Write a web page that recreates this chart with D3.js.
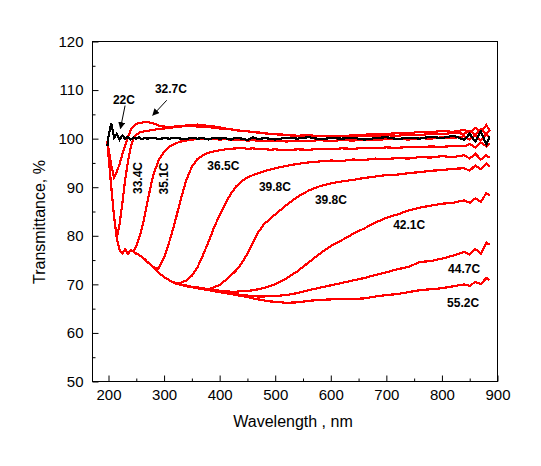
<!DOCTYPE html>
<html>
<head>
<meta charset="utf-8">
<script src="https://cdn.jsdelivr.net/npm/d3@7"></script>
<style>
  body { margin: 0; background: #fff; }
  svg { display: block; }
  .tick text { font-family: "Liberation Sans", Arial, sans-serif; font-size: 15px; fill: #000; }
  .axis-title { font-family: "Liberation Sans", Arial, sans-serif; font-size: 16px; fill: #000; }
  .curve-label { font-family: "Liberation Sans", Arial, sans-serif; font-size: 12px; font-weight: bold; fill: #000; }
</style>
</head>
<body>
<svg id="chart" width="541" height="466"></svg>
<script>
// wavelength grid (nm), shared by all spectra
const wavelength = [
  198, 200, 205, 210, 215, 220, 225, 230, 235, 240,
  245, 250, 255, 260, 265, 270, 280, 290, 300, 310,
  320, 330, 340, 350, 360, 370, 380, 390, 400, 410,
  420, 430, 440, 450, 460, 470, 480, 490, 500, 520,
  540, 560, 580, 600, 620, 640, 660, 680, 700, 720,
  740, 760, 780, 800, 820, 840, 850, 860, 870, 880,
  886
];

// transmittance, %
const t22 = [
  98.5, 100.5, 103.2, 100.2, 101, 99.8, 100.7, 99.9, 100.4, 99.8,
  100.2, 100, 100.3, 99.9, 100.1, 100, 100.2, 99.9, 100.1, 100,
  100.2, 100, 99.9, 100.2, 100, 100.1, 99.8, 100.2, 100, 100.1,
  99.8, 100.2, 100, 99.7, 100.3, 99.9, 100.1, 100, 99.8, 100.2,
  100, 100.3, 99.9, 100.1, 100, 100.2, 99.8, 100.1, 100.3, 99.9,
  100.2, 100, 100.4, 100.1, 100.6, 99.8, 101, 99.4, 101.5, 98.8,
  100.5
];
const t327 = [
  99.5, 98, 94.5, 92, 93.2, 94.8, 96.8, 98.6, 100.3, 101.8,
  102.6, 103, 103.2, 103.3, 103.4, 103.4, 103.2, 102.7, 102.5, 102.4,
  102.5, 102.6, 102.7, 102.8, 102.9, 102.8, 102.6, 102.5, 102.3, 102.1,
  101.9, 101.8, 101.6, 101.5, 101.4, 101.2, 101.1, 101, 100.9, 100.8,
  100.6, 100.7, 100.5, 100.6, 100.5, 100.7, 100.8, 101, 100.9, 101.2,
  101.1, 101.4, 101.3, 101.6, 101.4, 101.8, 101.2, 102.2, 101.4, 102.8,
  101.6
];
const t334 = [
  99.5, 96.5, 90, 84, 79.5, 82.5, 86.8, 91.5, 95.3, 98.2,
  100, 100.8, 101.2, 101.4, 101.5, 101.6, 101.8, 102, 102.1, 102.2,
  102.4, 102.5, 102.6, 102.6, 102.5, 102.5, 102.4, 102.2, 102.1, 102,
  101.9, 101.7, 101.6, 101.5, 101.3, 101.3, 101.1, 101, 100.9, 100.7,
  100.6, 100.5, 100.6, 100.4, 100.5, 100.4, 100.6, 100.5, 100.7, 100.6,
  100.8, 100.7, 101, 100.9, 101.2, 101, 101.6, 100.8, 102, 100.9,
  101.8
];
const t351 = [
  99.5, 96.5, 90, 84, 79.5, 77, 76.4, 77.2, 76.3, 77,
  76.8, 77.8, 79.5, 81.5, 84, 87, 92.3, 95.5, 97.3, 98.4,
  99, 99.4, 99.6, 99.8, 99.9, 100, 99.9, 100, 99.8, 99.9,
  99.8, 99.7, 99.8, 99.6, 99.7, 99.5, 99.6, 99.5, 99.6, 99.4,
  99.6, 99.5, 99.7, 99.5, 99.7, 99.6, 99.8, 99.7, 99.9, 100,
  99.8, 100.1, 100, 100.3, 100.1, 100.5, 99.8, 100.8, 99.6, 101,
  100.2
];
const t365 = [
  99.5, 96.5, 90, 84, 79.5, 77, 76.4, 77.2, 76.3, 77,
  76.8, 76.3, 76.1, 75.6, 75.2, 74.6, 73.6, 73.2, 75.5, 79,
  83, 87.5, 91.5, 94.2, 95.8, 96.6, 97.1, 97.4, 97.6, 97.8,
  97.9, 98, 98.1, 97.9, 98, 97.8, 97.9, 97.7, 97.8, 97.6,
  97.8, 97.7, 97.9, 97.8, 98, 97.9, 98.1, 98, 98.2, 98.1,
  98.3, 98.2, 98.4, 98.3, 98.5, 98.4, 98.9, 98.2, 99.2, 98.4,
  99
];
const t398a = [
  99.5, 96.5, 90, 84, 79.5, 77, 76.4, 77.2, 76.3, 77,
  76.8, 76.3, 76.1, 75.6, 75.2, 74.6, 73.6, 72.4, 71.5, 70.8,
  70.3, 70.3, 70.8, 71.8, 73.5, 76, 78.8, 81.7, 84.3, 86.6,
  88.6, 90.2, 91.3, 92, 92.5, 92.9, 93.3, 93.6, 93.9, 94.4,
  94.8, 95.1, 95.3, 95.5, 95.4, 95.7, 95.6, 95.9, 95.8, 96,
  95.9, 96.2, 96.1, 96.4, 96.2, 96.6, 95.9, 96.9, 95.7, 96.6,
  96
];
const t398b = [
  99.5, 96.5, 90, 84, 79.5, 77, 76.4, 77.2, 76.3, 77,
  76.8, 76.3, 76.1, 75.6, 75.2, 74.6, 73.6, 72.4, 71.5, 70.8,
  70.3, 70, 69.8, 69.5, 69.4, 69.2, 69, 69.4, 69.9, 70.8,
  71.8, 72.9, 74.4, 76.3, 78.6, 80.8, 82.4, 83.4, 84.4, 86.3,
  88, 89.3, 90.2, 90.8, 91.2, 91.5, 91.9, 92.2, 92.5, 92.6,
  92.9, 93.1, 93.4, 93.5, 93.8, 93.9, 93.4, 94.5, 93.7, 94.9,
  94.3
];
const t421 = [
  99.5, 96.5, 90, 84, 79.5, 77, 76.4, 77.2, 76.3, 77,
  76.8, 76.3, 76.1, 75.6, 75.2, 74.6, 73.6, 72.4, 71.5, 70.8,
  70.3, 70, 69.8, 69.5, 69.4, 69.2, 69, 68.9, 68.7, 68.6,
  68.5, 68.5, 68.6, 68.6, 68.8, 69, 69.3, 69.6, 70, 71.2,
  72.7, 74.5, 76.3, 77.9, 79.1, 80.4, 81.5, 82.7, 83.7, 84.4,
  85.2, 85.8, 86.2, 86.6, 86.8, 87.3, 86.8, 87.7, 87, 88.8,
  88.2
];
const t447 = [
  99.5, 96.5, 90, 84, 79.5, 77, 76.4, 77.2, 76.3, 77,
  76.8, 76.3, 76.1, 75.6, 75.2, 74.6, 73.6, 72.4, 71.5, 70.8,
  70.3, 70, 69.8, 69.5, 69.4, 69.2, 69, 68.8, 68.6, 68.4,
  68.2, 68, 67.8, 67.7, 67.6, 67.5, 67.5, 67.6, 67.6, 67.8,
  68.2, 68.8, 69.3, 69.8, 70.3, 70.8, 71.3, 71.9, 72.5, 73.1,
  73.6, 74.6, 74.8, 75.3, 75.9, 76.7, 76.1, 77.3, 76.3, 78.6,
  78.2
];
const t552 = [
  99.5, 96.5, 90, 84, 79.5, 77, 76.4, 77.2, 76.3, 77,
  76.8, 76.3, 76.1, 75.6, 75.2, 74.6, 73.6, 72.4, 71.5, 70.8,
  70.2, 69.9, 69.6, 69.4, 69.2, 69, 68.8, 68.6, 68.4, 68.2,
  68, 67.8, 67.6, 67.4, 67.1, 66.9, 66.7, 66.5, 66.4, 66.2,
  66.3, 66.6, 66.8, 66.9, 67, 67, 67.1, 67.5, 67.8, 68,
  68.4, 68.8, 69, 69.2, 69.6, 70, 69.7, 70.5, 70.1, 71.3,
  70.9
];

// red spectra first, the 22C (black) one drawn on top
const series = [
  { name: "32.7C", values: t327, color: "#ff0000" },
  { name: "33.4C", values: t334, color: "#ff0000" },
  { name: "35.1C", values: t351, color: "#ff0000" },
  { name: "36.5C", values: t365, color: "#ff0000" },
  { name: "39.8C", values: t398a, color: "#ff0000" },
  { name: "39.8C", values: t398b, color: "#ff0000" },
  { name: "42.1C", values: t421, color: "#ff0000" },
  { name: "44.7C", values: t447, color: "#ff0000" },
  { name: "55.2C", values: t552, color: "#ff0000" },
  { name: "22C", values: t22, color: "#000000" }
];

const xTicks = [200, 300, 400, 500, 600, 700, 800, 900];
const xMinor = [250, 350, 450, 550, 650, 750, 850];
const yTicks = [50, 60, 70, 80, 90, 100, 110, 120];
const yMinor = [55, 65, 75, 85, 95, 105, 115];

// annotation placement in data units: [wavelength, transmittance]
const labels = [
  { text: "22C", at: [208, 107.2] },
  { text: "32.7C", at: [283.5, 109.3] },
  { text: "33.4C", at: [252.3, 91.9], rotate: true },
  { text: "35.1C", at: [298.7, 91.8], rotate: true },
  { text: "36.5C", at: [377.8, 93.6] },
  { text: "39.8C", at: [470.7, 89.3] },
  { text: "39.8C", at: [571.4, 86.6] },
  { text: "42.1C", at: [712.2, 81.3] },
  { text: "44.7C", at: [811, 72.4] },
  { text: "55.2C", at: [809.3, 65.4] }
];
const arrows = [
  { from: [229.8, 106.8], to: [221.5, 102.1] },
  { from: [304.8, 107.9], to: [279.6, 104.8] }
];

var svg = d3.select("#chart");
var margin = { top: 41.5, right: 43.5, bottom: 84.5, left: 92.5 };
var width = 541 - margin.left - margin.right,
    height = 466 - margin.top - margin.bottom;

var x = d3.scaleLinear().domain([171.2, 900]).range([0, width]);
var y = d3.scaleLinear().domain([50, 120]).range([height, 0]);

var g = svg.append("g").attr("transform", "translate(" + margin.left + "," + margin.top + ")");

// inward ticks, no ticks on top/right
g.append("g").attr("transform", "translate(0," + height + ")")
  .call(d3.axisBottom(x).tickValues(xTicks).tickSizeInner(-6).tickSizeOuter(0).tickPadding(8));
g.append("g").attr("transform", "translate(0," + height + ")")
  .call(d3.axisBottom(x).tickValues(xMinor).tickSizeInner(-3).tickSizeOuter(0).tickFormat(""));
g.append("g")
  .call(d3.axisLeft(y).tickValues(yTicks).tickSizeInner(-6).tickSizeOuter(0).tickPadding(9));
g.append("g")
  .call(d3.axisLeft(y).tickValues(yMinor).tickSizeInner(-3).tickSizeOuter(0).tickFormat(""));
g.selectAll(".domain").remove();
g.selectAll(".tick line").attr("stroke", "#000");

var line = d3.line()
  .x(function(d, i) { return x(wavelength[i]); })
  .y(function(d) { return y(d); });

g.append("g").attr("class", "curves")
  .selectAll("path")
  .data(series)
  .enter()
  .append("path")
    .attr("d", function(d) { return line(d.values); })
    .attr("fill", "none")
    .attr("stroke", function(d) { return d.color; })
    .attr("stroke-width", 2.2)
    .attr("stroke-linejoin", "miter")
    .attr("shape-rendering", "crispEdges");

// frame
g.append("rect")
  .attr("width", width).attr("height", height)
  .attr("fill", "none").attr("stroke", "#000").attr("stroke-width", 1);

// labels
g.selectAll(".curve-label")
  .data(labels)
  .enter()
  .append("text")
    .attr("class", "curve-label")
    .attr("transform", function(d) {
      var px = x(d.at[0]), py = y(d.at[1]);
      return d.rotate ? "translate(" + px + "," + py + ") rotate(-90)" : "translate(" + px + "," + py + ")";
    })
    .attr("text-anchor", function(d) { return d.rotate ? "middle" : "start"; })
    .attr("dy", function(d) { return d.rotate ? "0.36em" : null; })
    .text(function(d) { return d.text; });

// arrows
svg.append("defs").append("marker")
  .attr("id", "head")
  .attr("viewBox", "0 0 10 10")
  .attr("refX", 9).attr("refY", 5)
  .attr("markerWidth", 7).attr("markerHeight", 7)
  .attr("markerUnits", "userSpaceOnUse")
  .attr("orient", "auto")
  .append("path").attr("d", "M0,0 L10,5 L0,10 z").attr("fill", "#000");

g.selectAll(".arrow")
  .data(arrows)
  .enter()
  .append("line")
    .attr("class", "arrow")
    .attr("x1", function(d) { return x(d.from[0]); })
    .attr("y1", function(d) { return y(d.from[1]); })
    .attr("x2", function(d) { return x(d.to[0]); })
    .attr("y2", function(d) { return y(d.to[1]); })
    .attr("stroke", "#000").attr("stroke-width", 1)
    .attr("marker-end", "url(#head)");

// axis titles
svg.append("text")
  .attr("class", "axis-title")
  .attr("x", 293).attr("y", 427)
  .attr("text-anchor", "middle")
  .text("Wavelength , nm");
svg.append("text")
  .attr("class", "axis-title")
  .attr("transform", "translate(45,222) rotate(-90)")
  .attr("text-anchor", "middle")
  .text("Transmittance, %");
</script>
</body>
</html>
